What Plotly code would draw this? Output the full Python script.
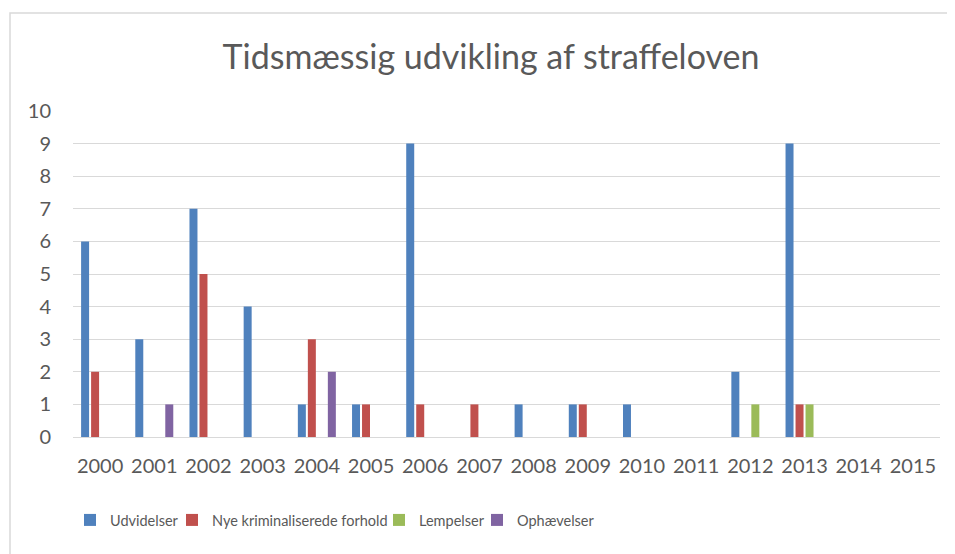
import plotly.graph_objects as go

years = [str(y) for y in range(2000, 2016)]
udvidelser = [6, 3, 7, 4, 1, 1, 9, 0, 1, 1, 1, 0, 2, 9, 0, 0]
nye_krim = [2, 0, 5, 0, 3, 1, 1, 1, 0, 1, 0, 0, 0, 1, 0, 0]
lempelser = [0, 0, 0, 0, 0, 0, 0, 0, 0, 0, 0, 0, 1, 1, 0, 0]
ophaevelser = [0, 1, 0, 0, 2, 0, 0, 0, 0, 0, 0, 0, 0, 0, 0, 0]

series = [
    ("Udvidelser", udvidelser, "#4F81BD"),
    ("Nye kriminaliserede forhold", nye_krim, "#C0504D"),
    ("Lempelser", lempelser, "#9BBB59"),
    ("Ophævelser", ophaevelser, "#8064A2"),
]

FONT = "Lato"
TXT = "#595959"
OFF = 8  # page body margin

W, H = 955 - OFF, 554 - OFF

L = 73 - OFF
T = 111 - OFF
R = W - (940 - OFF)
B = H - (437 - OFF)
pw = W - L - R
ph = H - T - B


def py(y):  # page pixel y -> paper y
    return ((437 - OFF) - (y - OFF)) / ph


def px(x):
    return ((x - OFF) - L) / pw


legend_text_x = [109, 211, 418, 516]
legend_ids = ["legend", "legend2", "legend3", "legend4"]

fig = go.Figure()
for (name, vals, col), lid in zip(series, legend_ids):
    fig.add_trace(go.Bar(x=years, y=vals, name=name, marker_color=col,
                         marker_line_width=0, legend=lid))

legend_layout = {}
for lid, tx in zip(legend_ids, legend_text_x):
    legend_layout[lid] = dict(
        orientation="h", x=px(tx - 39), xanchor="left",
        y=py(520), yanchor="middle",
        font=dict(family=FONT, size=14.5, color=TXT),
        itemwidth=30, bgcolor="rgba(0,0,0,0)")

fig.update_layout(
    width=W, height=H,
    margin=dict(l=L, r=R, t=T, b=B, autoexpand=False),
    paper_bgcolor="white", plot_bgcolor="white",
    barmode="group", bargap=0.262, bargroupgap=0.2,
    title=dict(text="Tidsmæssig udvikling af straffeloven",
               font=dict(family=FONT, size=34, color=TXT),
               x=px(491), xref="paper", xanchor="center",
               y=1 - (57 - OFF) / H, yref="container", yanchor="middle"),
    font=dict(family=FONT, color=TXT),
    xaxis=dict(type="category", showgrid=False, showline=False, ticks="",
               tickfont=dict(family=FONT, size=20, color=TXT),
               ticklabelstandoff=15),
    yaxis=dict(range=[0, 10], dtick=1, showgrid=True, gridcolor="#D9D9D9",
               gridwidth=1, zeroline=True, zerolinecolor="#D9D9D9",
               zerolinewidth=1, showline=False, ticks="",
               tickfont=dict(family=FONT, size=20, color=TXT),
               ticklabelstandoff=21),
    showlegend=True,
    **legend_layout,
)

fig.add_shape(type="rect", xref="paper", yref="paper",
              x0=px(10), x1=px(1000),
              y0=py(600), y1=py(13),
              line=dict(color="#D9D9D9", width=1.5), fillcolor="rgba(0,0,0,0)",
              layer="below")

fig.write_html("out.html")
